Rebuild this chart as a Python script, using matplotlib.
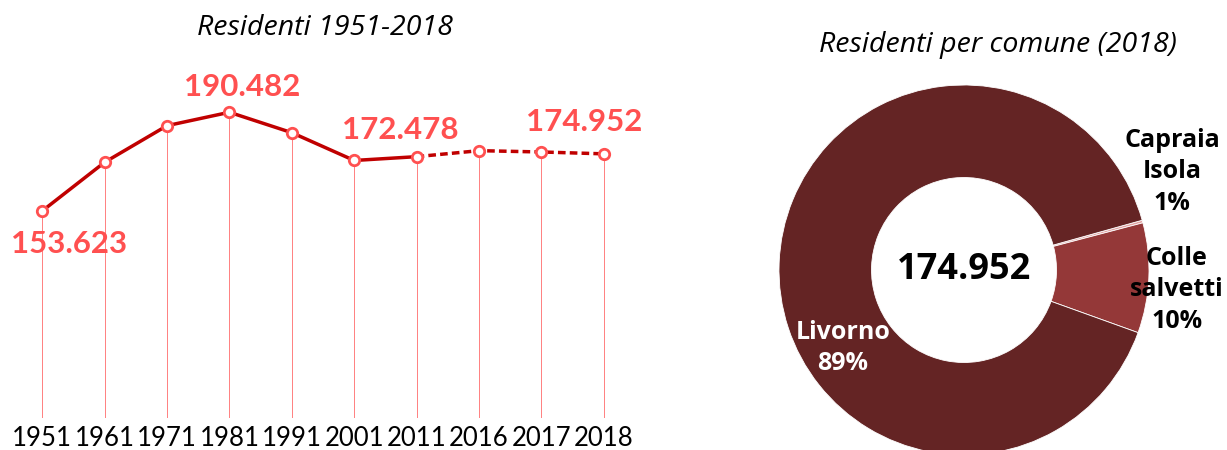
import matplotlib.pyplot as plt

plt.rcParams['font.family'] = ['Lato', 'DejaVu Sans']

# residenti per anno
anni = ['1951', '1961', '1971', '1981', '1991', '2001', '2011', '2016', '2017', '2018']
residenti = [153623, 171800, 185470, 190482, 182860, 172478, 173900, 176140, 175650, 174952]
etichette = {0: '153.623', 3: '190.482', 5: '172.478', 9: '174.952'}

# residenti per comune 2018
comuni = ['Capraia\nIsola', 'Colle\nsalvetti', 'Livorno']
quote = [400, 16800, 157752]
percentuali = ['1%', '10%', '89%']
colori = ['#E3A3A3', '#943838', '#642424']
totale = '174.952'

fig = plt.figure(figsize=(12.27, 4.5), dpi=100)

# --- line chart ---
ax = fig.add_axes([11 / 1227, 1 - 418 / 450, 624 / 1227, 358 / 450])
x = list(range(len(anni)))
ax.vlines(x, 0, residenti, color='#FF8080', lw=0.7, zorder=1)
ax.plot(x[:7], residenti[:7], color='#C00000', lw=2.5, zorder=2)
ax.plot(x[6:], residenti[6:], color='#C00000', lw=2.5, ls=(0, (2.2, 1.2)), zorder=2)
ax.plot(x, residenti, ls='none', marker='o', ms=7.5, mfc='white', mec='#FF5050', mew=2, zorder=3)

offsets = {0: (19, -24), 3: (9, 18), 5: (33, 22), 9: (-14, 23)}
for i, lab in etichette.items():
    ax.annotate(lab, (x[i], residenti[i]), xytext=offsets[i], textcoords='offset points',
                ha='center', va='center', fontsize=22.5, fontweight='bold', color='#FF5050')

ax.set_xlim(-0.5, len(anni) - 0.5)
ax.set_ylim(76300, 210000)
ax.set_xticks(x)
ax.set_xticklabels(anni, fontsize=18.5)
ax.tick_params(axis='x', length=0, pad=6)
ax.set_yticks([])
for s in ax.spines.values():
    s.set_visible(False)
fig.text(325 / 1227, 1 - 28 / 450, 'Residenti 1951-2018', ha='center', va='center',
         fontsize=20.5, style='italic', family=['Open Sans', 'DejaVu Sans'])

# --- donut ---
r_px = 185
cx, cy = 964, 270
ax2 = fig.add_axes([(cx - r_px) / 1227, (450 - cy - r_px) / 450, 2 * r_px / 1227, 2 * r_px / 450])
ax2.pie(quote, colors=colori, startangle=15.6, counterclock=False, radius=1,
        wedgeprops=dict(width=0.5, edgecolor='white', linewidth=0.6))
ax2.set_xlim(-1, 1)
ax2.set_ylim(-1, 1)
ax2.set_aspect('equal')
ax2.axis('off')

bold = dict(fontweight='bold', family=['Open Sans', 'DejaVu Sans'], fontsize=18,
            ha='center', va='center', linespacing=1.35)
ax2.text(0, 0, totale, ha='center', va='center', fontsize=26, fontweight='bold',
         family=['Open Sans', 'DejaVu Sans'])
ax2.text(1.124, 0.53, comuni[0] + '\n' + percentuali[0], color='black', clip_on=False, **bold)
ax2.text(1.151, -0.108, comuni[1] + '\n' + percentuali[1], color='black', clip_on=False, **bold)
ax2.text(-0.654, -0.422, comuni[2] + '\n' + percentuali[2], color='white', **bold)

fig.text(998 / 1227, 1 - 45 / 450, 'Residenti per comune (2018)', ha='center', va='center',
         fontsize=20.5, style='italic', family=['Open Sans', 'DejaVu Sans'])

fig.savefig('out.png', dpi=100)
